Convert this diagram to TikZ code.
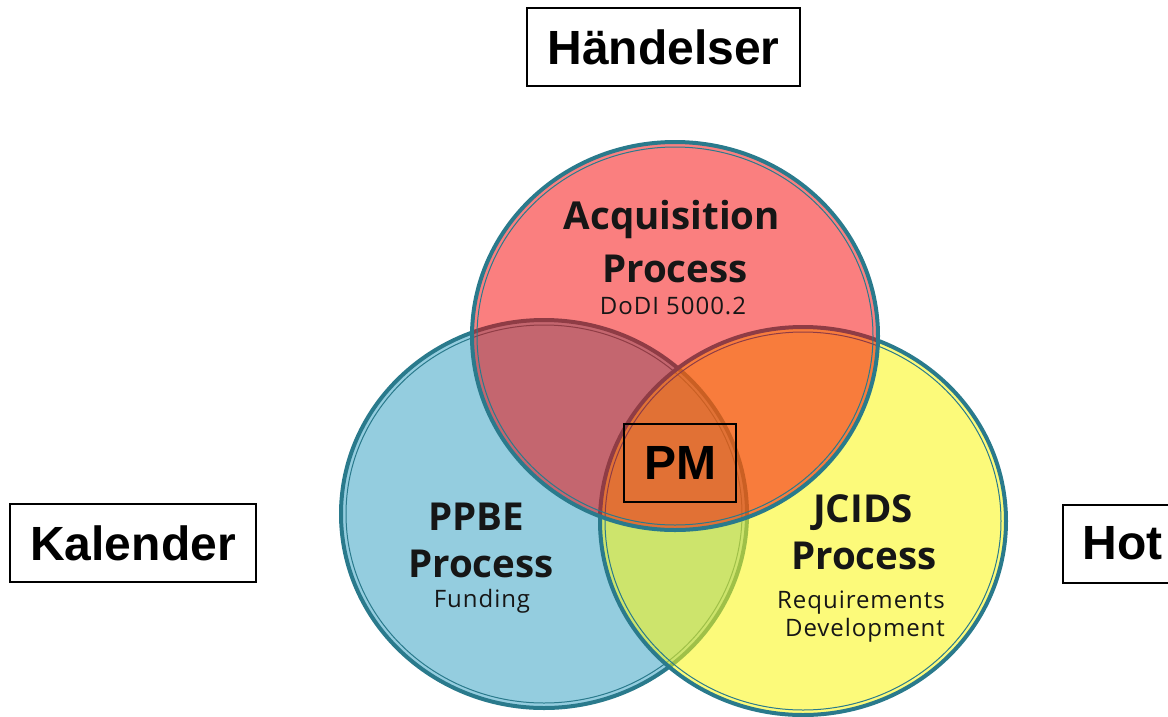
\documentclass[tikz,border=0pt]{standalone}
\usepackage{fontspec}
\setmainfont{Open Sans}
\newfontfamily\arialfont{Liberation Sans}
\newfontfamily\widefont[LetterSpace=4]{Open Sans}
\definecolor{ringteal}{RGB}{42,122,140}
\definecolor{acqred}{RGB}{245,0,0}
\definecolor{ppbeblue}{RGB}{148,205,223}
\definecolor{jcidsyellow}{RGB}{249,246,21}
\definecolor{inktext}{RGB}{22,22,22}
\tikzset{
  ring/.style={draw=ringteal, line width=4pt},
  innerring/.style={draw=ringteal, line width=1pt},
  big/.style={font=\bfseries\fontsize{38.5}{42}\selectfont, text=inktext, anchor=base, inner sep=0pt},
  small/.style={font=\widefont\fontsize{24}{28}\selectfont, text=inktext, anchor=base, inner sep=0pt},
  tag/.style={draw=black, line width=2pt, font=\arialfont\bfseries\fontsize{48}{52}\selectfont, minimum height=78pt, inner sep=0pt}
}
\begin{document}
\begin{tikzpicture}[x=1pt, y=-1pt]
\useasboundingbox (0,0) rectangle (1168,716);
\clip (0,0) rectangle (1168,716);
\coordinate (a) at (675,336);
\coordinate (b) at (544,514);
\coordinate (c) at (803,521);
\fill[ppbeblue] (b) ellipse [x radius=203, y radius=194];
\draw[ring] (b) ellipse [x radius=203, y radius=194];
\draw[innerring] (b) ellipse [x radius=198, y radius=189];
\fill[jcidsyellow, fill opacity=0.57] (c) ellipse [x radius=203, y radius=194];
\draw[ring] (c) ellipse [x radius=203, y radius=194];
\draw[innerring] (c) ellipse [x radius=198, y radius=189];
\fill[acqred, fill opacity=0.5] (a) ellipse [x radius=203, y radius=194];
\draw[ring] (a) ellipse [x radius=203, y radius=194];
\draw[innerring] (a) ellipse [x radius=198, y radius=189];
\node[big] (acq1) at (672,229) {Acquisition};
\node[big] (acq2) at (675,282) {Process};
\node[small] (acq3) at (673,314) {DoDI 5000.2};
\node[big] (ppbe1) at (476,530) {PPBE};
\node[big] (ppbe2) at (481,577) {Process};
\node[small] (ppbe3) at (482,607) {Funding};
\node[big] (jcids1) at (863,522) {JCIDS};
\node[big] (jcids2) at (864,569) {Process};
\node[small] (jcids3) at (861,608) {Requirements};
\node[small] (jcids4) at (865,636) {Development};
\node[tag, minimum width=273pt] (events) at (663.5,47) {Händelser};
\node[tag, minimum width=246pt] (calendar) at (133,543) {Kalender};
\node[tag, minimum width=119pt] (threat) at (1122.5,543.5) {Hot};
\node[tag, minimum width=112pt, line width=1.5pt] (pm) at (680,463) {PM};
\end{tikzpicture}
\end{document}
